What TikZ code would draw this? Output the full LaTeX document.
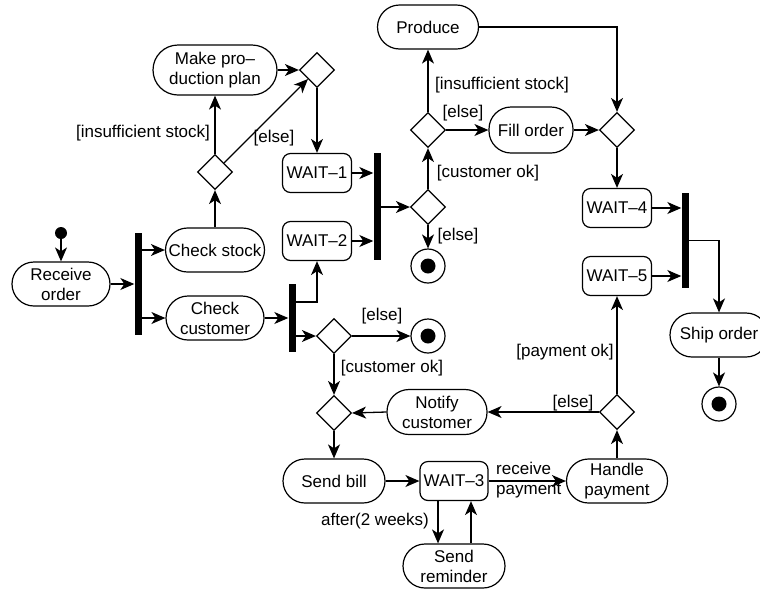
\documentclass[tikz,border=0pt]{standalone}
\usepackage{fontspec}
\setmainfont{Liberation Sans}
\usetikzlibrary{shapes.geometric,arrows.meta}
\begin{document}
\begin{tikzpicture}[x=1pt,y=-1pt,
  every node/.style={font=\fontsize{17}{20}\selectfont},
  act/.style={draw,line width=1.2pt,rounded corners=22pt,minimum height=44pt,inner sep=2pt,align=center},
  waitbox/.style={draw,line width=1.2pt,rounded corners=8pt,minimum height=39pt,minimum width=69pt,inner sep=1pt},
  dec/.style={draw,line width=1.2pt,diamond,aspect=1,minimum width=35pt,minimum height=35pt,inner sep=0pt},
  bar/.style={fill=black,minimum width=7pt,inner sep=0pt},
  finalnode/.style={draw,line width=1.2pt,circle,minimum size=34pt,inner sep=0pt,
    path picture={\fill[black] (path picture bounding box.center) circle (7.5pt);}},
  initnode/.style={fill=black,circle,minimum size=12pt,inner sep=0pt},
  lbl/.style={inner sep=0pt},
  arr/.style={line width=1.3pt,-{Stealth[length=14pt,width=12pt,inset=4pt]}},
  ln/.style={line width=1.3pt}
]
\useasboundingbox (0,0) rectangle (760,590);

% nodes
\node[initnode] (init) at (61,233) {};
\node[act,minimum width=98pt] (recv) at (61,284) {Receive\\order};
\node[bar,minimum height=102pt] (bar1) at (138,284) {};
\node[act,minimum width=99pt] (cs) at (215,250) {Check stock};
\node[act,minimum width=98pt] (cc) at (215,318) {Check\\customer};
\node[bar,minimum height=68pt] (bar2) at (292,318) {};
\node[dec] (d4) at (215,172) {};
\node[act,minimum width=124pt,minimum height=50pt,rounded corners=25pt] (mpp) at (215,70) {Make pro–\\duction plan};
\node[dec] (d5) at (317,70) {};
\node[waitbox] (w1) at (317,173) {WAIT–1};
\node[waitbox] (w2) at (317,241) {WAIT–2};
\node[bar,minimum height=107pt] (bar4) at (377,206.5) {};
\node[dec] (d6) at (428,207) {};
\node[finalnode] (f2) at (428,266) {};
\node[dec] (d7) at (428,130) {};
\node[act,minimum width=101pt] (prod) at (428,27) {Produce};
\node[act,minimum width=84pt,minimum height=46pt] (fill) at (531,130) {Fill order};
\node[dec] (d8) at (617,130) {};
\node[waitbox] (w4) at (617,208) {WAIT–4};
\node[waitbox] (w5) at (617,276) {WAIT–5};
\node[bar,minimum height=95pt] (bar3) at (685,240.5) {};
\node[act,minimum width=98pt] (ship) at (719,335) {Ship order};
\node[finalnode] (f3) at (719,404) {};
\node[dec] (d1) at (334,336) {};
\node[finalnode] (f1) at (428,336) {};
\node[dec] (d2) at (334,413) {};
\node[act,minimum width=102pt] (sb) at (334,481) {Send bill};
\node[waitbox,minimum width=68pt] (w3) at (454,481) {WAIT–3};
\node[act,minimum width=101pt] (hp) at (617,481) {Handle\\payment};
\node[dec] (d3) at (617,412) {};
\node[act,minimum width=100pt,minimum height=45pt] (notify) at (437,412) {Notify\\customer};
\node[act,minimum width=102pt] (sr) at (454,566) {Send\\reminder};

% labels
\node[lbl] (l1) at (143,133) {[insufficient stock]};
\node[lbl] (l2) at (274,138) {[else]};
\node[lbl] (l3) at (382,316) {[else]};
\node[lbl] (l4) at (392,368) {[customer ok]};
\node[lbl] (l5) at (573,403) {[else]};
\node[lbl] (l6) at (565,352) {[payment ok]};
\node[lbl,align=left,anchor=west] (l7) at (496,480) {receive\\payment};
\node[lbl] (l8) at (375,521) {after(2 weeks)};
\node[lbl] (l9) at (458,236) {[else]};
\node[lbl] (l10) at (488,173) {[customer ok]};
\node[lbl] (l11) at (502,85) {[insufficient stock]};
\node[lbl] (l12) at (463,113) {[else]};

% connectors
\draw[arr] (init) -- (recv);
\draw[arr] (recv.east) -- (recv.east -| bar1.west);
\draw[arr] (bar1.east |- cs.west) -- (cs.west);
\draw[arr] (bar1.east |- cc.west) -- (cc.west);
\draw[arr] (cs.north) -- (d4.south);
\draw[arr] (d4.north) -- (mpp.south);
\draw[arr] (d4) -- (d5);
\draw[arr] (mpp.east) -- (d5.west);
\draw[arr] (d5.south) -- (w1.north);
\draw[arr] (w1.east) -- (w1.east -| bar4.west);
\draw[arr] (w2.east) -- (w2.east -| bar4.west);
\draw[arr] (cc.east) -- (cc.east -| bar2.west);
\draw[arr] ([yshift=16pt]bar2.east) -| (w2.south);
\draw[arr] (bar2.east |- d1.west) -- (d1.west);
\draw[arr] (d1.east) -- (f1.west);
\draw[arr] (d1.south) -- (d2.north);
\draw[arr] (d2.south) -- (sb.north);
\draw[arr] (sb.east) -- (w3.west);
\draw[arr] (w3.east) -- (hp.west);
\draw[arr] (w3.south -| 438,0) -- (sr.north -| 438,0);
\draw[arr] (sr.north -| 471,0) -- (w3.south -| 471,0);
\draw[arr] (hp.north) -- (d3.south);
\draw[arr] (d3.west) -- (notify.east);
\draw[arr] (notify.west) -- (d2.east);
\draw[arr] (d3.north) -- (w5.south);
\draw[arr] (w5.east) -- (w5.east -| bar3.west);
\draw[arr] (w4.east) -- (w4.east -| bar3.west);
\draw[arr] (bar3.east) -| (ship.north);
\draw[arr] (ship.south) -- (f3.north);
\draw[arr] (bar4.east |- d6.west) -- (d6.west);
\draw[arr] (d6.south) -- (f2.north);
\draw[arr] (d6.north) -- (d7.south);
\draw[arr] (d7.north) -- (prod.south);
\draw[arr] (d7.east) -- (fill.west);
\draw[arr] (fill.east) -- (d8.west);
\draw[arr] (prod.east) -| (d8.north);
\draw[arr] (d8.south) -- (w4.north);
\end{tikzpicture}
\end{document}
